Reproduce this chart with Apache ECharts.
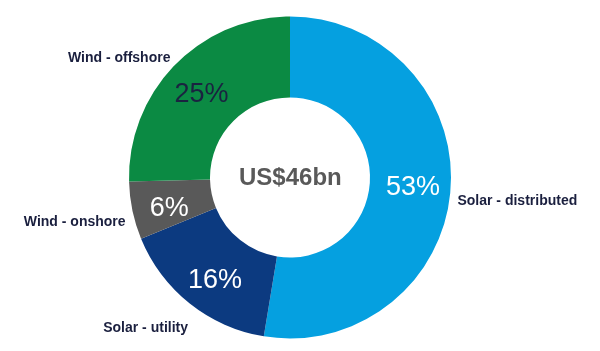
<!DOCTYPE html>
<html>
<head>
<meta charset="utf-8">
<script src="https://cdn.jsdelivr.net/npm/echarts@6/dist/echarts.min.js"></script>
<style>
  html, body { margin: 0; padding: 0; background: #fff; }
  #chart { width: 600px; height: 351px; }
</style>
</head>
<body>
<div id="chart"></div>
<script>
// segment names, clockwise from 12 o'clock
const segments = ['Solar - distributed', 'Solar - utility', 'Wind - onshore', 'Wind - offshore'];
// shares in %
const shares = [52.6, 16.2, 5.8, 25.4];
const colors = ['#05a0e0', '#0c3a80', '#595959', '#0b8a43'];
const centerText = 'US$46bn';

// hand nudges so the labels sit where the original slide put them
const innerNudge = [[0, 0], [2, 6], [0, 6], [0, 3]];
const outerNudge = [[-4, 10], [7, 20], [4, 10], [5, -3]];

const chart = echarts.init(document.getElementById('chart'));

const option = {
  animation: false,
  graphic: [{
    type: 'text',
    left: 239,
    top: 166,
    style: {
      text: centerText,
      font: 'bold 24px "Liberation Sans", Arial, sans-serif',
      fill: '#595959'
    }
  }],
  series: [
    {
      // the donut itself, with % labels inside
      type: 'pie',
      center: [290, 177.5],
      radius: [80, 161],
      startAngle: 90,
      clockwise: true,
      avoidLabelOverlap: false,
      silent: true,
      data: segments.map((name, i) => ({
        name: name,
        value: shares[i],
        itemStyle: { color: colors[i] },
        label: {
          color: name === 'Wind - offshore' ? '#1a2340' : '#ffffff',
          offset: innerNudge[i]
        }
      })),
      label: {
        position: 'inside',
        fontFamily: '"Liberation Sans", Arial, sans-serif',
        fontSize: 27,
        formatter: p => Math.round(p.value) + '%'
      },
      labelLine: { show: false }
    },
    {
      // invisible copy carrying the outside name labels
      type: 'pie',
      center: [290, 177.5],
      radius: [80, 161],
      startAngle: 90,
      clockwise: true,
      avoidLabelOverlap: false,
      silent: true,
      itemStyle: { color: 'transparent' },
      data: segments.map((name, i) => ({
        name: name,
        value: shares[i],
        label: { offset: outerNudge[i] }
      })),
      label: {
        position: 'outside',
        fontFamily: '"Liberation Sans", Arial, sans-serif',
        fontSize: 14,
        fontWeight: 'bold',
        color: '#1a1f3e',
        formatter: '{b}'
      },
      labelLine: { show: false, length: 6, length2: 0 }
    }
  ]
};

chart.setOption(option);
</script>
</body>
</html>
